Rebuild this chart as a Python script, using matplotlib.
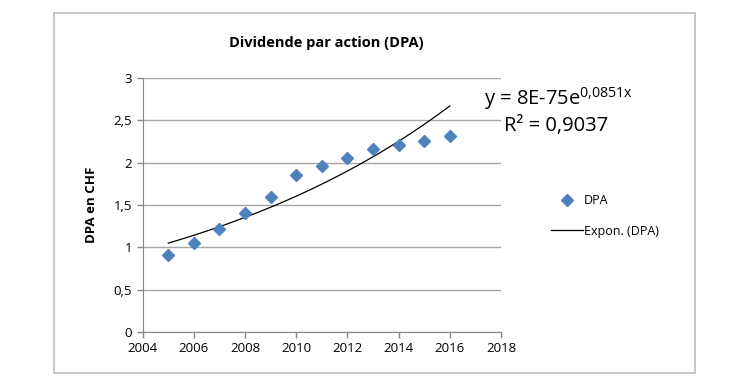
import numpy as np
import matplotlib.pyplot as plt
from matplotlib.lines import Line2D
from matplotlib.patches import Rectangle

plt.rcParams['font.family'] = ['Open Sans', 'DejaVu Sans']

# data
years = [2005, 2006, 2007, 2008, 2009, 2010, 2011, 2012, 2013, 2014, 2015, 2016]
dpa = [0.91, 1.05, 1.22, 1.40, 1.60, 1.85, 1.96, 2.06, 2.16, 2.21, 2.255, 2.31]
x_ticks = [2004, 2006, 2008, 2010, 2012, 2014, 2016, 2018]
y_ticks = [0, 0.5, 1, 1.5, 2, 2.5, 3]
y_labels = ['0', '0,5', '1', '1,5', '2', '2,5', '3']

blue = '#4F81BD'
grid_col = '#A6A6A6'

fig = plt.figure(figsize=(7.54, 3.92), dpi=100)
fig.patches.append(Rectangle((54 / 754, 1 - 373 / 392), 641 / 754, 360 / 392,
                             transform=fig.transFigure, fill=False,
                             edgecolor='#BFBFBF', lw=1.2))

ax = fig.add_axes([142.7 / 754, 1 - 332 / 392, 358.3 / 754, 254 / 392])

# exponential trend line (least squares on log values, like Excel)
b, a = np.polyfit(years, np.log(dpa), 1)
xt = np.linspace(years[0], years[-1], 100)
ax.plot(xt, np.exp(a + b * xt), color='black', lw=0.9, zorder=3)

ax.plot(years, dpa, linestyle='none', marker='D', ms=6.5, color=blue,
        markeredgecolor=blue, zorder=4)

ax.set_xlim(2004, 2018)
ax.set_ylim(0, 3)
ax.set_xticks(x_ticks)
ax.set_yticks(y_ticks)
ax.set_yticklabels(y_labels)
ax.grid(axis='y', color=grid_col, lw=1)
ax.set_axisbelow(True)
for s in ['top', 'right']:
    ax.spines[s].set_visible(False)
for s in ['left', 'bottom']:
    ax.spines[s].set_color('#888888')
ax.tick_params(colors='#888888', labelcolor='black', labelsize=9.5, length=4, width=1)

ax.set_ylabel('DPA en CHF', fontsize=9.5, fontweight='bold', labelpad=11)
fig.text(326 / 754, 1 - 43 / 392, 'Dividende par action (DPA)', ha='center', va='center',
         fontsize=10.5, fontweight='bold')

fig.text(484 / 754, 1 - 99 / 392, r'y = 8E-75e$^{\mathregular{0{,}0851x}}$', ha='left',
         va='center', fontsize=14.5)
fig.text(504 / 754, 1 - 126 / 392, 'R² = 0,9037', ha='left', va='center',
         fontsize=14.5)

handles = [Line2D([], [], linestyle='none', marker='D', ms=6, color=blue),
           Line2D([], [], color='black', lw=0.9)]
fig.legend(handles, ['DPA', 'Expon. (DPA)'], loc='center left',
           bbox_to_anchor=(540 / 754, 1 - 216 / 392), frameon=False, fontsize=9,
           handlelength=2.5, handletextpad=0.1, labelspacing=1.4)

fig.savefig('out.png', dpi=100)
